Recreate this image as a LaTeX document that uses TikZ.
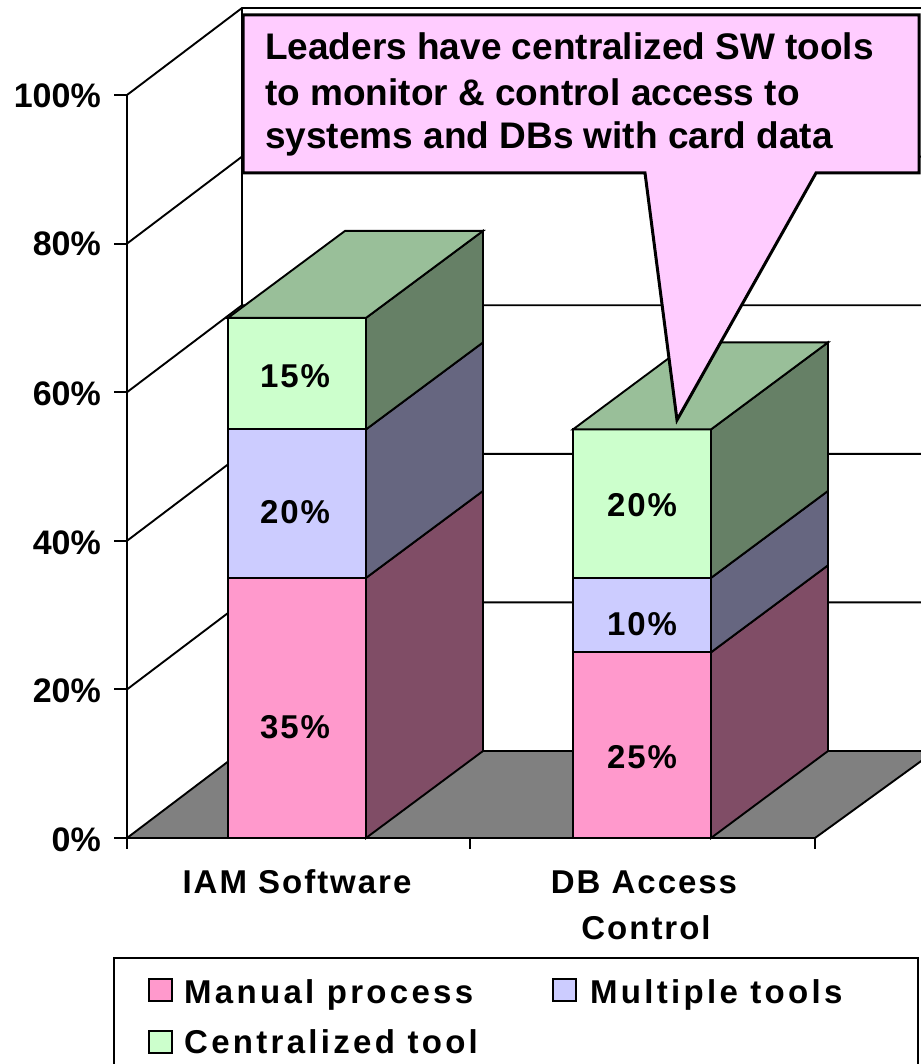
\documentclass[tikz,border=0pt]{standalone}
\usepackage{fontspec}
\setmainfont{Liberation Sans}
\newfontfamily\spacedfont{Liberation Sans}[LetterSpace=6]
\newfontfamily\widefont{Liberation Sans}[LetterSpace=10]

\definecolor{manualfront}{HTML}{FF99CC}
\definecolor{manualside}{HTML}{804D66}
\definecolor{multifront}{HTML}{CCCCFF}
\definecolor{multiside}{HTML}{666680}
\definecolor{centralfront}{HTML}{CCFFCC}
\definecolor{centralside}{HTML}{668066}
\definecolor{centraltop}{HTML}{99BF99}
\definecolor{floorgray}{HTML}{808080}
\definecolor{calloutpink}{HTML}{FFCCFF}

% one stacked segment of a 3-D bar: left x, bottom y, top y, front colour, side colour
\newcommand{\barsegment}[5]{%
  \filldraw[barface, fill=#4] (#1,#2) rectangle (#1+138,#3);
  \filldraw[barface, fill=#5] (#1+138,#2) -- (#1+255,#2-87) -- (#1+255,#3-87) -- (#1+138,#3) -- cycle;
}
% top face of a bar: left x, top y, colour
\newcommand{\bartop}[3]{%
  \filldraw[barface, fill=#3] (#1,#2) -- (#1+138,#2) -- (#1+255,#2-87) -- (#1+117,#2-87) -- cycle;
}

\begin{document}
\begin{tikzpicture}[x=1pt, y=-1pt,
  frame/.style={line width=1.9pt, draw=black, line join=miter},
  barface/.style={line width=1.9pt, draw=black, line join=miter},
  axislabel/.style={font=\bfseries\fontsize{34}{40}\selectfont, inner sep=0pt},
  valuelabel/.style={font=\spacedfont\bfseries\fontsize{33}{40}\selectfont, inner sep=0pt, anchor=base},
  catlabel/.style={font=\spacedfont\bfseries\fontsize{33}{40}\selectfont, inner sep=0pt, anchor=base},
  legendtext/.style={font=\widefont\bfseries\fontsize{33}{40}\selectfont, inner sep=0pt, anchor=base west},
  legendkey/.style={line width=1.5pt, draw=black},
  callouttext/.style={font=\bfseries\fontsize{37}{44}\selectfont, inner sep=0pt, anchor=base west}]

\useasboundingbox (0,0) rectangle (920,1064);
\fill[white] (0,0) rectangle (920,1064);

% back wall gridlines and left wall diagonals
\foreach \k in {1,...,5} {
  \pgfmathsetmacro{\yk}{838-148.6*\k}
  \draw[frame] (127,\yk) -- (242,\yk-87) -- (930,\yk-87);
  \draw[frame] (114,\yk) -- (127,\yk);
}
\draw[frame] (242,8) -- (242,751);

% floor
\filldraw[frame, fill=floorgray] (127,838) -- (242,751) -- (935,751) -- (815,838) -- cycle;

% axes
\draw[frame] (127,95) -- (127,849);
\draw[frame] (114,838) -- (815,838);
\draw[frame] (470,838) -- (470,849);
\draw[frame] (815,838) -- (815,849);

% value axis labels
\node[axislabel, anchor=base east] (p100) at (101,108) {100\%};
\node[axislabel, anchor=base east] (p80)  at (101,256) {80\%};
\node[axislabel, anchor=base east] (p60)  at (101,405) {60\%};
\node[axislabel, anchor=base east] (p40)  at (101,554) {40\%};
\node[axislabel, anchor=base east] (p20)  at (101,702) {20\%};
\node[axislabel, anchor=base east] (p0)   at (101,851) {0\%};

% IAM Software: 35 / 20 / 15
\barsegment{228}{838}{577.9}{manualfront}{manualside}
\barsegment{228}{577.9}{429.4}{multifront}{multiside}
\barsegment{228}{429.4}{317.9}{centralfront}{centralside}
\bartop{228}{317.9}{centraltop}

% DB Access Control: 25 / 10 / 20
\barsegment{573}{838}{652.3}{manualfront}{manualside}
\barsegment{573}{652.3}{577.9}{multifront}{multiside}
\barsegment{573}{577.9}{429.4}{centralfront}{centralside}
\bartop{573}{429.4}{centraltop}

% values on the bars
\node[valuelabel] (v1a) at (295,738) {35\%};
\node[valuelabel] (v1b) at (295,523) {20\%};
\node[valuelabel] (v1c) at (295,387) {15\%};
\node[valuelabel] (v2a) at (642,768) {25\%};
\node[valuelabel] (v2b) at (642,635) {10\%};
\node[valuelabel] (v2c) at (642,516) {20\%};

% category labels
\node[catlabel] (cat1) at (297,893) {IAM Software};
\node[catlabel] (cat2a) at (644,893) {DB Access};
\node[catlabel] (cat2b) at (646,939) {Control};

% callout
\filldraw[line width=3pt, draw=black, fill=calloutpink, line join=miter]
  (243,15) -- (919,15) -- (919,173) -- (816,173) -- (677,420) -- (645,173) -- (243,173) -- cycle;
\node[callouttext] (call1) at (265,60) {Leaders have centralized SW tools};
\node[callouttext] (call2) at (265,106) {to monitor \& control access to};
\node[callouttext] (call3) at (265,149) {systems and DBs with card data};

% legend
\draw[frame] (114,958) rectangle (918,1075);
\filldraw[legendkey, fill=manualfront] (149,979) rectangle (172,1001);
\node[legendtext] (leg1) at (184,1003) {Manual process};
\filldraw[legendkey, fill=multifront] (553,979) rectangle (576,1001);
\node[legendtext] (leg2) at (590,1003) {Multiple tools};
\filldraw[legendkey, fill=centralfront] (149,1031) rectangle (172,1053);
\node[legendtext] (leg3) at (184,1053) {Centralized tool};

\end{tikzpicture}
\end{document}
